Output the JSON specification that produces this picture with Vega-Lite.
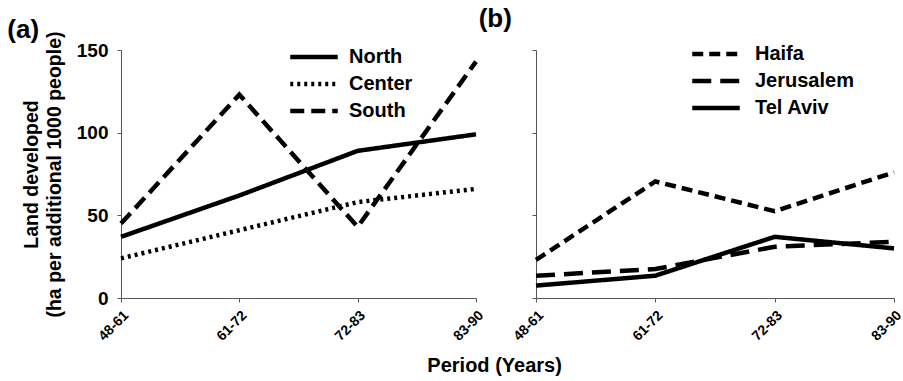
{
  "$schema": "https://vega.github.io/schema/vega-lite/v6.json",
  "background": "white",
  "padding": {"left": 7, "top": 6, "right": 6, "bottom": 4},
  "bounds": "flush",
  "spacing": 60,
  "datasets": {
    "regions": [
      {"period": "48-61", "series": "North", "value": 37},
      {"period": "61-72", "series": "North", "value": 62},
      {"period": "72-83", "series": "North", "value": 89},
      {"period": "83-90", "series": "North", "value": 99},
      {"period": "48-61", "series": "Center", "value": 24},
      {"period": "61-72", "series": "Center", "value": 41},
      {"period": "72-83", "series": "Center", "value": 58},
      {"period": "83-90", "series": "Center", "value": 66},
      {"period": "48-61", "series": "South", "value": 45},
      {"period": "61-72", "series": "South", "value": 123},
      {"period": "72-83", "series": "South", "value": 43},
      {"period": "83-90", "series": "South", "value": 143}
    ],
    "cities": [
      {"period": "48-61", "series": "Haifa", "value": 23},
      {"period": "61-72", "series": "Haifa", "value": 70.5},
      {"period": "72-83", "series": "Haifa", "value": 52.5},
      {"period": "83-90", "series": "Haifa", "value": 76},
      {"period": "48-61", "series": "Jerusalem", "value": 13.5},
      {"period": "61-72", "series": "Jerusalem", "value": 17.5},
      {"period": "72-83", "series": "Jerusalem", "value": 31},
      {"period": "83-90", "series": "Jerusalem", "value": 34},
      {"period": "48-61", "series": "Tel Aviv", "value": 7.5},
      {"period": "61-72", "series": "Tel Aviv", "value": 13.5},
      {"period": "72-83", "series": "Tel Aviv", "value": 37},
      {"period": "83-90", "series": "Tel Aviv", "value": 30}
    ]
  },
  "title": {
    "text": "Period (Years)",
    "orient": "bottom",
    "anchor": "middle",
    "font": "Liberation Sans",
    "fontSize": 20,
    "fontWeight": "bold",
    "color": "black",
    "offset": 13,
    "dx": 39
  },
  "config": {
    "view": {"stroke": null},
    "font": "Liberation Sans",
    "axis": {
      "grid": false,
      "domainColor": "#555",
      "tickColor": "#555",
      "tickSize": 4,
      "labelPadding": 6,
      "labelFont": "Liberation Sans",
      "labelFontWeight": "bold",
      "labelColor": "black",
      "titleFont": "Liberation Sans",
      "titleFontWeight": "bold",
      "titleColor": "black"
    },
    "legend": {
      "labelFont": "Liberation Sans",
      "labelFontWeight": "bold",
      "labelFontSize": 20,
      "labelColor": "black",
      "symbolType": "M-2.5,0H2.5",
      "symbolSize": 361,
      "symbolStrokeWidth": 4.5,
      "symbolStrokeColor": "black",
      "symbolFillColor": "transparent",
      "rowPadding": 5,
      "title": null
    },
    "title": {
      "font": "Liberation Sans",
      "fontSize": 26,
      "fontWeight": "bold",
      "color": "black",
      "anchor": "start"
    }
  },
  "hconcat": [
    {
      "width": 355,
      "height": 248,
      "title": {"text": "(a)", "dx": -14, "offset": -12},
      "data": {"name": "regions"},
      "mark": {"type": "line", "color": "black", "strokeWidth": 4.5},
      "encoding": {
        "x": {
          "field": "period", "type": "ordinal",
          "scale": {"type": "point", "padding": 0},
          "axis": {"title": null, "labelAngle": -45, "labelFontSize": 14}
        },
        "y": {
          "field": "value", "type": "quantitative",
          "scale": {"domain": [0, 150]},
          "axis": {
            "values": [0, 50, 100, 150],
            "labelFontSize": 19,
            "labelPadding": 9,
            "title": ["Land developed", "(ha per additional 1000 people)"],
            "titleFontSize": 19.5,
            "titleLineHeight": 23,
            "titlePadding": 12
          }
        },
        "strokeDash": {
          "field": "series", "type": "nominal",
          "scale": {"domain": ["North", "Center", "South"], "range": [[1, 0], [3, 4], [14, 7]]},
          "legend": {"orient": "none", "legendX": 181, "legendY": -5, "labelOffset": 23}
        }
      }
    },
    {
      "width": 358,
      "height": 248,
      "title": {"text": "(b)", "dx": -32, "offset": 10},
      "data": {"name": "cities"},
      "mark": {"type": "line", "color": "black", "strokeWidth": 4.5},
      "encoding": {
        "x": {
          "field": "period", "type": "ordinal",
          "scale": {"type": "point", "padding": 0},
          "axis": {"title": null, "labelAngle": -45, "labelFontSize": 14}
        },
        "y": {
          "field": "value", "type": "quantitative",
          "scale": {"domain": [0, 150]},
          "axis": {"values": [0, 50, 100, 150], "labels": false, "title": null}
        },
        "strokeDash": {
          "field": "series", "type": "nominal",
          "scale": {"domain": ["Haifa", "Jerusalem", "Tel Aviv"], "range": [[11, 6], [19, 9], [1, 0]]},
          "legend": {"orient": "none", "legendX": 168, "legendY": -8, "labelOffset": 27}
        }
      }
    }
  ],
  "resolve": {"scale": {"strokeDash": "independent", "y": "independent"}, "legend": {"strokeDash": "independent"}}
}
